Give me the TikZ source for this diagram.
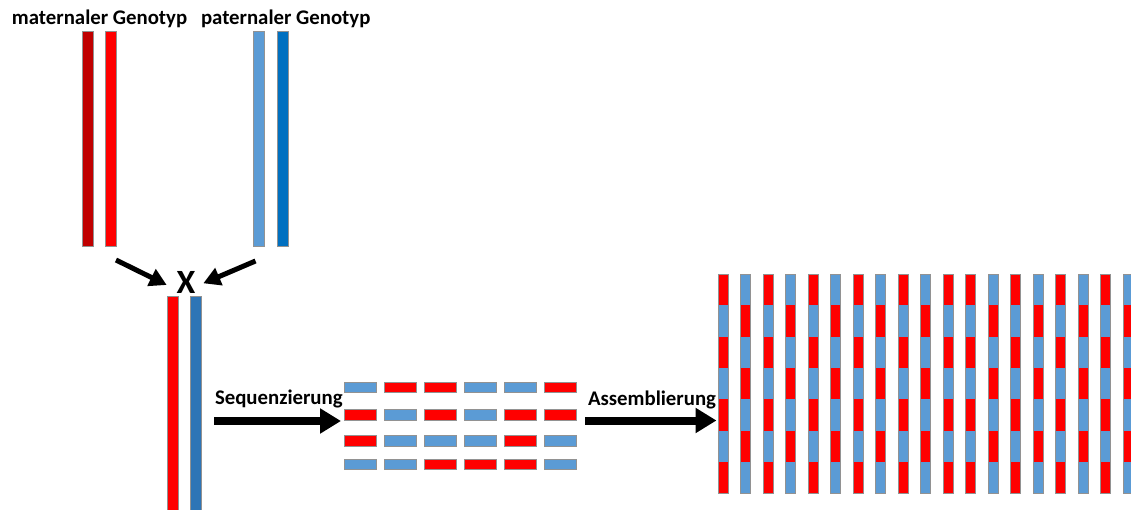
\documentclass[tikz,border=0pt]{standalone}
\usepackage{fontspec}
\setmainfont{Carlito}
\usetikzlibrary{arrows.meta}

\definecolor{matdark}{HTML}{C00000}
\definecolor{readR}{HTML}{FF0000}
\definecolor{readB}{HTML}{5B9BD5}
\definecolor{patdark}{HTML}{0070C0}
\definecolor{kidblue}{HTML}{2E75B6}
\definecolor{edgegray}{HTML}{929292}

\tikzset{
  chrom/.style={draw=edgegray, line width=0.8pt, inner sep=0pt, outer sep=0pt,
    minimum width=11pt, anchor=north west},
  readbox/.style={draw=edgegray, line width=0.8pt, inner sep=0pt, outer sep=0pt,
    minimum width=31.7pt, minimum height=10.5pt, anchor=north west},
  segbox/.style={inner sep=0pt, outer sep=0pt, minimum width=10pt,
    minimum height=31.4pt, anchor=north west},
  colbox/.style={draw=edgegray, line width=0.8pt, inner sep=0pt, outer sep=0pt,
    minimum width=10pt, minimum height=219.3pt, anchor=north west},
  lbl/.style={font=\bfseries\fontsize{20.8}{24}\selectfont, anchor=base west,
    inner sep=0pt, outer sep=0pt},
  thinarrow/.style={line width=5pt, -{Triangle[length=17pt,width=18pt]}},
  bigarrow/.style={line width=8pt, -{Triangle[length=21pt,width=24pt]}},
}

\begin{document}
\begin{tikzpicture}[x=1pt, y=-1pt]
\useasboundingbox (0,0) rectangle (1131,510);

% parental genotypes
\node[lbl] (tmat) at (12,24.2) {maternaler Genotyp};
\node[lbl] (tpat) at (201,24.2) {paternaler Genotyp};

\node[chrom, fill=matdark, minimum height=215pt] (mat1) at (82.3,31) {};
\node[chrom, fill=readR,   minimum height=215pt] (mat2) at (105.7,31) {};
\node[chrom, fill=readB,   minimum height=215pt] (pat1) at (253.3,31) {};
\node[chrom, fill=patdark, minimum height=215pt] (pat2) at (277.3,31) {};

% crossing
\node[font=\bfseries\fontsize{34}{36}\selectfont, anchor=base, inner sep=0pt]
  (cross) at (186,293.3) {X};
\coordinate (tailL) at (116,260);
\coordinate (tipL)  at (166.7,285);
\coordinate (tailR) at (255.5,261);
\coordinate (tipR)  at (203.3,283.3);
\draw[thinarrow] (tailL) -- (tipL);
\draw[thinarrow] (tailR) -- (tipR);

% offspring genotype
\node[chrom, fill=readR,   minimum height=220pt] (kid1) at (167.3,296.7) {};
\node[chrom, fill=kidblue, minimum height=220pt] (kid2) at (190.7,296.7) {};

% sequencing
\node[lbl] (tseq) at (215,404.8) {Sequenzierung};
\coordinate (seqA) at (214,421);
\coordinate (seqB) at (341,421);
\draw[bigarrow] (seqA) -- (seqB);

% reads
\foreach \row/\ytop/\cols in {1/382/{B,R,R,B,B,R}, 2/409.5/{R,B,R,B,R,R},
                              3/435.7/{R,B,B,B,R,B}, 4/459.3/{B,B,R,R,R,B}} {
  \foreach \c [count=\i from 0] in \cols {
    \node[readbox, fill=read\c] (r-\row-\i) at (344.3+40*\i,\ytop) {};
  }
}

% assembly
\node[lbl] (tasm) at (588,405) {Assemblierung};
\coordinate (asmA) at (585,420.5);
\coordinate (asmB) at (716.5,420.5);
\draw[bigarrow] (asmA) -- (asmB);

\foreach \s/\t [count=\k from 0] in {R/B,B/R,R/B,B/R,R/B,B/R,R/B,B/R,R/B,B/R,
                                      R/B,R/B,B/R,R/B,B/R,R/B,B/R,R/B,B/R} {
  \foreach \j in {0,...,6} {
    \ifodd\j \def\segcol{\t}\else\def\segcol{\s}\fi
    \node[segbox, fill=read\segcol] (s-\k-\j) at (718+22.5*\k,274+31.33*\j) {};
  }
  \node[colbox] (col-\k) at (718+22.5*\k,274) {};
}
\end{tikzpicture}
\end{document}
